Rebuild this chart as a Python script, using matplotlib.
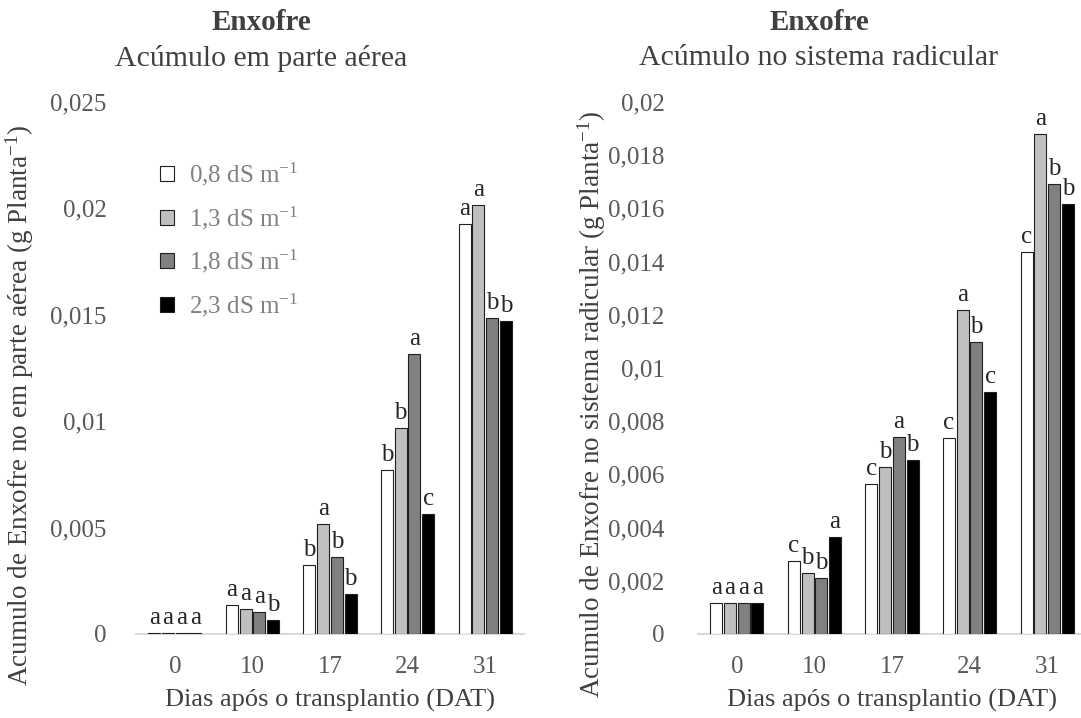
import numpy as np
import matplotlib
matplotlib.use("Agg")
import matplotlib.pyplot as plt
from matplotlib.patches import Patch
from matplotlib.ticker import FuncFormatter

plt.rcParams['font.family'] = ['Liberation Serif', 'DejaVu Serif']
plt.rcParams['mathtext.fontset'] = 'custom'
plt.rcParams['mathtext.rm'] = 'Liberation Serif'
plt.rcParams['mathtext.it'] = 'Liberation Serif:italic'

days = ['0', '10', '17', '24', '31']
series = ['0,8 dS m$^{-1}$', '1,3 dS m$^{-1}$', '1,8 dS m$^{-1}$', '2,3 dS m$^{-1}$']
colors = ['#ffffff', '#c0c0c0', '#808080', '#000000']

# parte aerea (g planta-1), one list per salinity level
aerea_08 = [0.00004, 0.00136, 0.00324, 0.00771, 0.01927]
aerea_13 = [0.00004, 0.00117, 0.00517, 0.00968, 0.02016]
aerea_18 = [0.00004, 0.00103, 0.00362, 0.01316, 0.01485]
aerea_23 = [0.00004, 0.00066, 0.00188, 0.00564, 0.01471]
aerea_letters = [['a', 'a', 'b', 'b', 'a'],
                 ['a', 'a', 'a', 'b', 'a'],
                 ['a', 'a', 'b', 'a', 'b'],
                 ['a', 'b', 'b', 'c', 'b']]

# sistema radicular (g planta-1)
raiz_08 = [0.00117, 0.00274, 0.00564, 0.00737, 0.01436]
raiz_13 = [0.00117, 0.00229, 0.00628, 0.01218, 0.01880]
raiz_18 = [0.00117, 0.00210, 0.00741, 0.01098, 0.01692]
raiz_23 = [0.00117, 0.00365, 0.00654, 0.00910, 0.01617]
raiz_letters = [['a', 'c', 'c', 'c', 'c'],
                ['a', 'b', 'b', 'a', 'a'],
                ['a', 'b', 'a', 'b', 'b'],
                ['a', 'a', 'b', 'c', 'b']]

W, H = 1081, 718
fig = plt.figure(figsize=(W / 100, H / 100), dpi=100)

tick_col = '#595959'
txt_col = '#404040'


def fmt(v, pos):
    if abs(v) < 1e-12:
        return '0'
    s = ('%.3f' % v).rstrip('0').rstrip('.')
    return s.replace('.', ',')


def draw_panel(ax, data, letters, ymax, ystep):
    x = np.arange(len(days))
    step = 0.177
    width = 0.155
    for j, vals in enumerate(data):
        pos = x + (j - 1.5) * step
        ax.bar(pos, vals, width, color=colors[j], edgecolor='#202020',
               linewidth=0.8, zorder=3)
        for k in range(len(days)):
            ax.annotate(letters[j][k], (pos[k], vals[k]), xytext=(0, 3),
                        textcoords='offset points', ha='center', va='bottom',
                        fontsize=18, color='#262626')
    ax.set_xlim(-0.5, len(days) - 0.5)
    ax.set_ylim(0, ymax)
    ax.set_yticks(np.arange(0, ymax + ystep / 2, ystep))
    ax.yaxis.set_major_formatter(FuncFormatter(fmt))
    ax.set_xticks(x)
    ax.set_xticklabels(days)
    for s in ['top', 'right', 'left']:
        ax.spines[s].set_visible(False)
    ax.spines['bottom'].set_color('#d9d9d9')
    ax.spines['bottom'].set_linewidth(1.5)
    ax.tick_params(axis='y', length=0, pad=21, labelsize=18, labelcolor=tick_col)
    ax.tick_params(axis='x', length=0, pad=16, labelsize=18, labelcolor=tick_col)
    ax.set_xlabel('Dias após o transplantio (DAT)', fontsize=19, color=txt_col,
                  labelpad=8)


# left panel
ax1 = fig.add_axes([136 / W, 84 / H, 388 / W, 532 / H])
draw_panel(ax1, [aerea_08, aerea_13, aerea_18, aerea_23], aerea_letters, 0.025, 0.005)
fig.text(20 / W, 1 - 405 / H,
         'Acumulo de Enxofre no em parte aérea (g Planta$^{-1}$)',
         rotation=90, ha='center', va='center', fontsize=19.5, color=txt_col)
fig.text(261 / W, 1 - 23 / H, 'Enxofre', ha='center', va='center',
         fontsize=21, fontweight='bold', color=txt_col)
fig.text(261 / W, 1 - 58 / H, 'Acúmulo em parte aérea', ha='center',
         va='center', fontsize=21.5, color=txt_col)

handles = [Patch(facecolor=c, edgecolor='#202020', linewidth=0.8) for c in colors]
ax1.legend(handles, series, loc='upper left', bbox_to_anchor=(0.062, 0.89),
           frameon=False, fontsize=18, labelcolor='#808080', handlelength=0.55,
           handleheight=0.55, handletextpad=0.6, labelspacing=0.65,
           borderpad=0, borderaxespad=0)

# right panel
ax2 = fig.add_axes([698 / W, 84 / H, 388 / W, 532 / H])
draw_panel(ax2, [raiz_08, raiz_13, raiz_18, raiz_23], raiz_letters, 0.02, 0.002)
ax2.tick_params(axis='y', pad=24)
fig.text(592 / W, 1 - 404 / H,
         'Acumulo de Enxofre no sistema radicular (g Planta$^{-1}$)',
         rotation=90, ha='center', va='center', fontsize=19.5, color=txt_col)
fig.text(819 / W, 1 - 23 / H, 'Enxofre', ha='center', va='center',
         fontsize=21, fontweight='bold', color=txt_col)
fig.text(819 / W, 1 - 58 / H, 'Acúmulo no sistema radicular', ha='center',
         va='center', fontsize=21.5, color=txt_col)

fig.savefig('out.png', dpi=100, facecolor='white')
